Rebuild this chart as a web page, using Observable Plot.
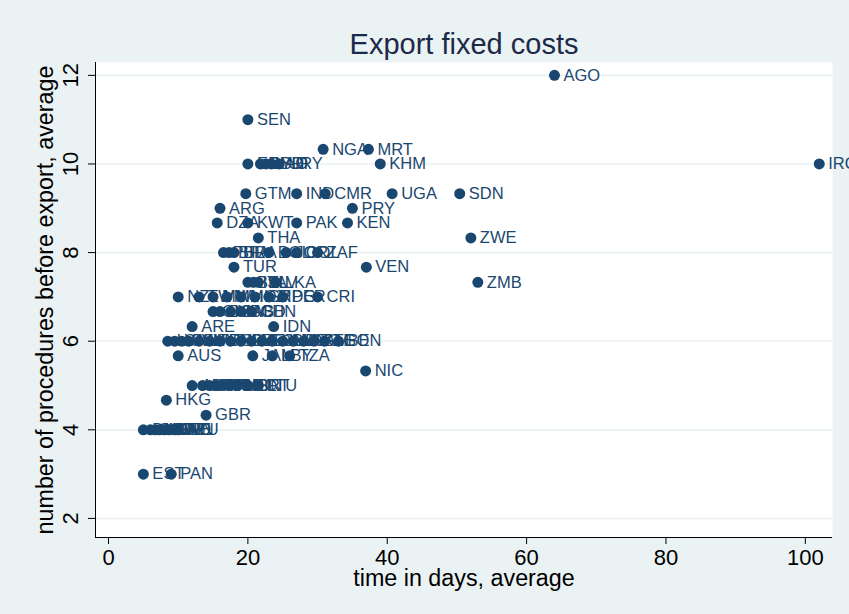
<!DOCTYPE html>
<html>
<head>
<meta charset="utf-8">
<script src="https://cdn.jsdelivr.net/npm/d3@7"></script>
<script src="https://cdn.jsdelivr.net/npm/@observablehq/plot@0.6"></script>
<style>
  html, body { margin: 0; padding: 0; background: #eaf2f3; overflow: hidden; }
  #chart svg { display: block; }
</style>
</head>
<body>
<div id="chart"></div>
<script>
const titleText = "Export fixed costs";
const xTitle = "time in days, average";
const yTitle = "number of procedures before export, average";
const xTicks = [0, 20, 40, 60, 80, 100];
const yTicks = [2, 4, 6, 8, 10, 12];

const countries = [
  "AGO",
  "SEN",
  "NGA", "MRT",
  "ERI", "SYR", "LAO", "BDI", "URY", "KHM", "IRQ",
  "GTM", "IND", "CMR", "UGA", "SDN",
  "ARG", "PRY",
  "DZA", "KWT", "PAK", "KEN",
  "THA", "ZWE",
  "PHL", "BFA", "BRA", "BOL", "JOR", "COL", "ZAF",
  "TUR", "VEN",
  "BEL", "ITA", "SLV", "LKA", "ZMB",
  "NZL", "TWN", "MWI", "MLI", "MOZ", "ISR", "MDG", "PER", "CRI",
  "CIV", "DOM", "GAB", "BGD", "CHN",
  "ARE", "IDN",
  "LVA", "CHL", "SVN", "ISL", "MAR", "TUN", "POL", "HRV", "CZE", "MEX", "ECU", "HND", "SWZ", "MNG", "NAM", "SLE", "TGO", "BEN",
  "AUS", "JAM", "LBY", "TZA",
  "NIC",
  "AUT", "BGR", "ROM", "JPN", "MYS", "GRC", "HUN", "PRT", "LTU",
  "HKG",
  "GBR",
  "DNK", "SGP", "USA", "NOR", "SWE", "NLD", "DEU", "FIN",
  "EST", "PAN"
];
const days = [
  64,
  20,
  30.8, 37.3,
  20, 21.8, 22.6, 23.4, 24.5, 39, 102,
  19.7, 27, 31.1, 40.7, 50.4,
  16, 35,
  15.6, 20, 27, 34.3,
  21.5, 52,
  16.5, 17.3, 18, 23, 25.5, 27, 30,
  18, 37,
  20, 20.8, 21.5, 24, 53,
  10, 13, 15, 17, 19, 21, 23, 25, 30,
  15, 16, 17.5, 19, 20.5,
  12, 23.7,
  8.5, 9.5, 10.5, 11.5, 13, 14.5, 16, 17.5, 19, 20.5, 22, 23.5, 25, 26.5, 28, 29.5, 31, 33,
  10, 20.7, 23.5, 26,
  36.9,
  12, 13.5, 14.5, 15.5, 16.5, 17.5, 18.5, 20, 21.5,
  8.3,
  14,
  5, 6, 6.7, 7.3, 8, 8.7, 9.5, 10,
  5, 9
];
const procedures = [
  12,
  11,
  10.33, 10.33,
  10, 10, 10, 10, 10, 10, 10,
  9.33, 9.33, 9.33, 9.33, 9.33,
  9, 9,
  8.67, 8.67, 8.67, 8.67,
  8.33, 8.33,
  8, 8, 8, 8, 8, 8, 8,
  7.67, 7.67,
  7.33, 7.33, 7.33, 7.33, 7.33,
  7, 7, 7, 7, 7, 7, 7, 7, 7,
  6.67, 6.67, 6.67, 6.67, 6.67,
  6.33, 6.33,
  6, 6, 6, 6, 6, 6, 6, 6, 6, 6, 6, 6, 6, 6, 6, 6, 6, 6,
  5.67, 5.67, 5.67, 5.67,
  5.33,
  5, 5, 5, 5, 5, 5, 5, 5, 5,
  4.67,
  4.33,
  4, 4, 4, 4, 4, 4, 4, 4,
  3, 3
];

const data = countries.map((c, i) => ({country: c, days: days[i], procs: procedures[i]}));

const navy = "#1a476f";
const font = "'Liberation Sans', Arial, Helvetica, sans-serif";
const xDomain = [-1.87, 103.9];
const yDomain = [1.57, 12.29];

const chart = Plot.plot({
  width: 849,
  height: 614,
  marginLeft: 95,
  marginRight: 17,
  marginTop: 62,
  marginBottom: 77,
  x: {domain: xDomain},
  y: {domain: yDomain},
  style: {background: "#eaf2f3", fontFamily: font, overflow: "hidden"},
  marks: [
    Plot.frame({fill: "white", stroke: null}),
    Plot.ruleY(yTicks, {stroke: "#eaf2f3", strokeWidth: 1.6}),
    Plot.ruleX([xDomain[0]], {stroke: "#000", strokeWidth: 1}),
    Plot.ruleY([yDomain[0]], {stroke: "#000", strokeWidth: 1}),
    Plot.axisX({ticks: xTicks, tickSize: 7, tickFormat: () => "", label: null, stroke: "#000"}),
    Plot.axisY({ticks: yTicks, tickSize: 7, tickFormat: () => "", label: null, stroke: "#000"}),
    Plot.text(xTicks, {x: d => d, frameAnchor: "bottom", dy: 20, text: d => String(d),
      fontSize: 22, fill: "#000", textAnchor: "middle", lineAnchor: "middle"}),
    Plot.text(yTicks, {y: d => d, frameAnchor: "left", dx: -25, rotate: -90, text: d => String(d),
      fontSize: 22, fill: "#000", textAnchor: "middle", lineAnchor: "middle"}),
    Plot.text([xTitle], {frameAnchor: "bottom", dy: 41, text: d => d, fontSize: 23.3,
      fill: "#000", textAnchor: "middle", lineAnchor: "middle"}),
    Plot.text([yTitle], {frameAnchor: "left", dx: -50, rotate: -90, text: d => d, fontSize: 23.3,
      fill: "#000", textAnchor: "middle", lineAnchor: "middle"}),
    Plot.text([titleText], {frameAnchor: "top", dy: -18, text: d => d, fontSize: 29,
      fill: "#1c2a4a", textAnchor: "middle", lineAnchor: "middle"}),
    Plot.text(data, {x: "days", y: "procs", text: "country", dx: 9, textAnchor: "start",
      lineAnchor: "middle", fontSize: 16.5, fill: navy}),
    Plot.dot(data, {x: "days", y: "procs", r: 5.5, fill: navy, stroke: null})
  ]
});
document.getElementById("chart").appendChild(chart);
</script>
</body>
</html>
